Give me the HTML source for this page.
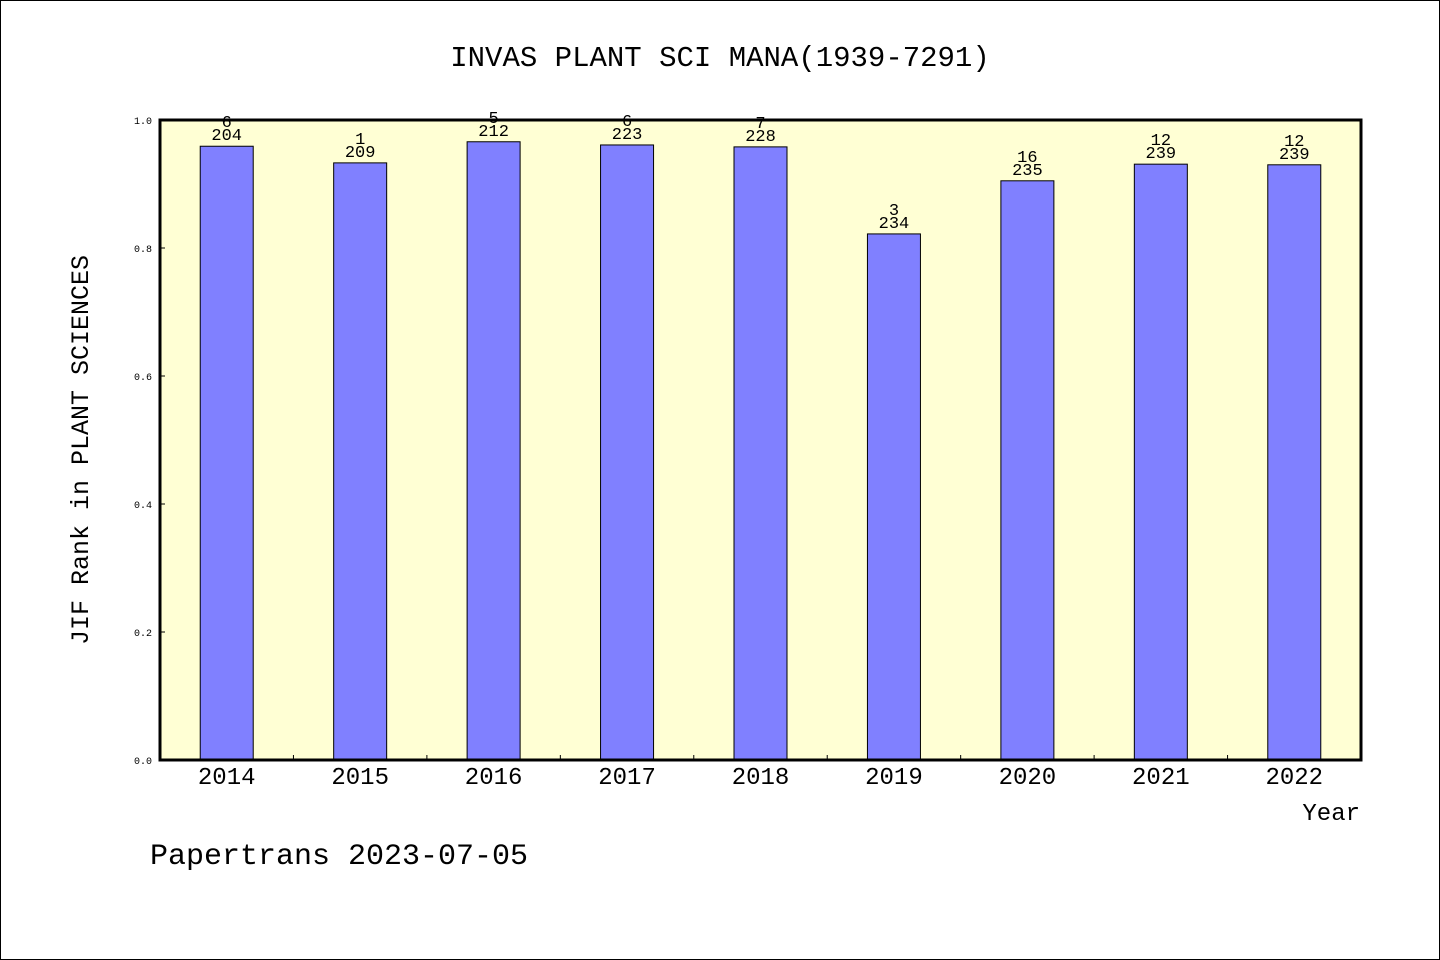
<!DOCTYPE html>
<html><head><meta charset="utf-8"><style>
html,body{margin:0;padding:0;background:#fff}
svg{display:block}
text{font-family:"Liberation Mono","DejaVu Sans Mono",monospace;fill:#000}
</style></head><body>
<svg id="chart" width="1440" height="960">
<rect x="0.5" y="0.5" width="1439" height="959" fill="#fff" stroke="#000"/>
<text x="720" y="66" font-size="29" text-anchor="middle">INVAS PLANT SCI MANA(1939-7291)</text>
<rect x="160" y="120" width="1201" height="640" fill="#ffffd4"/>
<g id="bars"></g>
<rect x="160" y="120" width="1201" height="640" fill="none" stroke="#000" stroke-width="3"/>
<text transform="translate(88,450) rotate(-90)" font-size="25" text-anchor="middle">JIF Rank in PLANT SCIENCES</text>
<text x="1360" y="820" font-size="24" text-anchor="end">Year</text>
<text x="150" y="864" font-size="30">Papertrans 2023-07-05</text>
</svg>
<script>
const years=["2014","2015","2016","2017","2018","2019","2020","2021","2022"];
const values=[0.959,0.933,0.966,0.961,0.958,0.822,0.905,0.931,0.930];
const ranks=["6","1","5","6","7","3","16","12","12"];
const totals=["204","209","212","223","228","234","235","239","239"];
const yTicks=[0,0.2,0.4,0.6,0.8,1.0];
const NS="http://www.w3.org/2000/svg";
const x0=160,x1=1361,yb=760,yt=120;
const band=(x1-x0)/years.length;
const y=v=>yb-(yb-yt)*v;
const g=document.getElementById('bars');
function mk(t,a){const e=document.createElementNS(NS,t);for(const k in a)e.setAttribute(k,a[k]);return e;}
yTicks.forEach(t=>{
 const l=mk('line',{x1:x0,x2:x0+5,y1:y(t),y2:y(t),stroke:'#000'});
 
 
 g.appendChild(l);
 const tx=mk('text',{x:152,y:y(t)+4,'font-size':10,'text-anchor':'end'});
 tx.textContent=t.toFixed(1);
 
 
 g.appendChild(tx);
});
years.forEach((yr,i)=>{
 const cx=x0+band*(i+0.5);
 const r=mk('rect',{x:cx-26.5,y:y(values[i]),width:53,height:yb-y(values[i]),fill:'#8080ff',stroke:'#000','stroke-width':1});
 
 
 g.appendChild(r);
 const t1=mk('text',{x:cx,y:y(values[i])-6,'font-size':17,'text-anchor':'middle'});
 t1.textContent=totals[i];
 
 
 g.appendChild(t1);
 const t2=mk('text',{x:cx,y:y(values[i])-19,'font-size':17,'text-anchor':'middle'});
 t2.textContent=ranks[i];
 
 
 g.appendChild(t2);
 const xl=mk('text',{x:cx,y:784,'font-size':24,'text-anchor':'middle'});
 xl.textContent=yr;
 
 
 g.appendChild(xl);
 if(i>0){
  const tk=mk('line',{x1:x0+band*i,x2:x0+band*i,y1:yb,y2:yb-5,stroke:'#000'});
  
  
  g.appendChild(tk);
 }
});
</script>
</body></html>
